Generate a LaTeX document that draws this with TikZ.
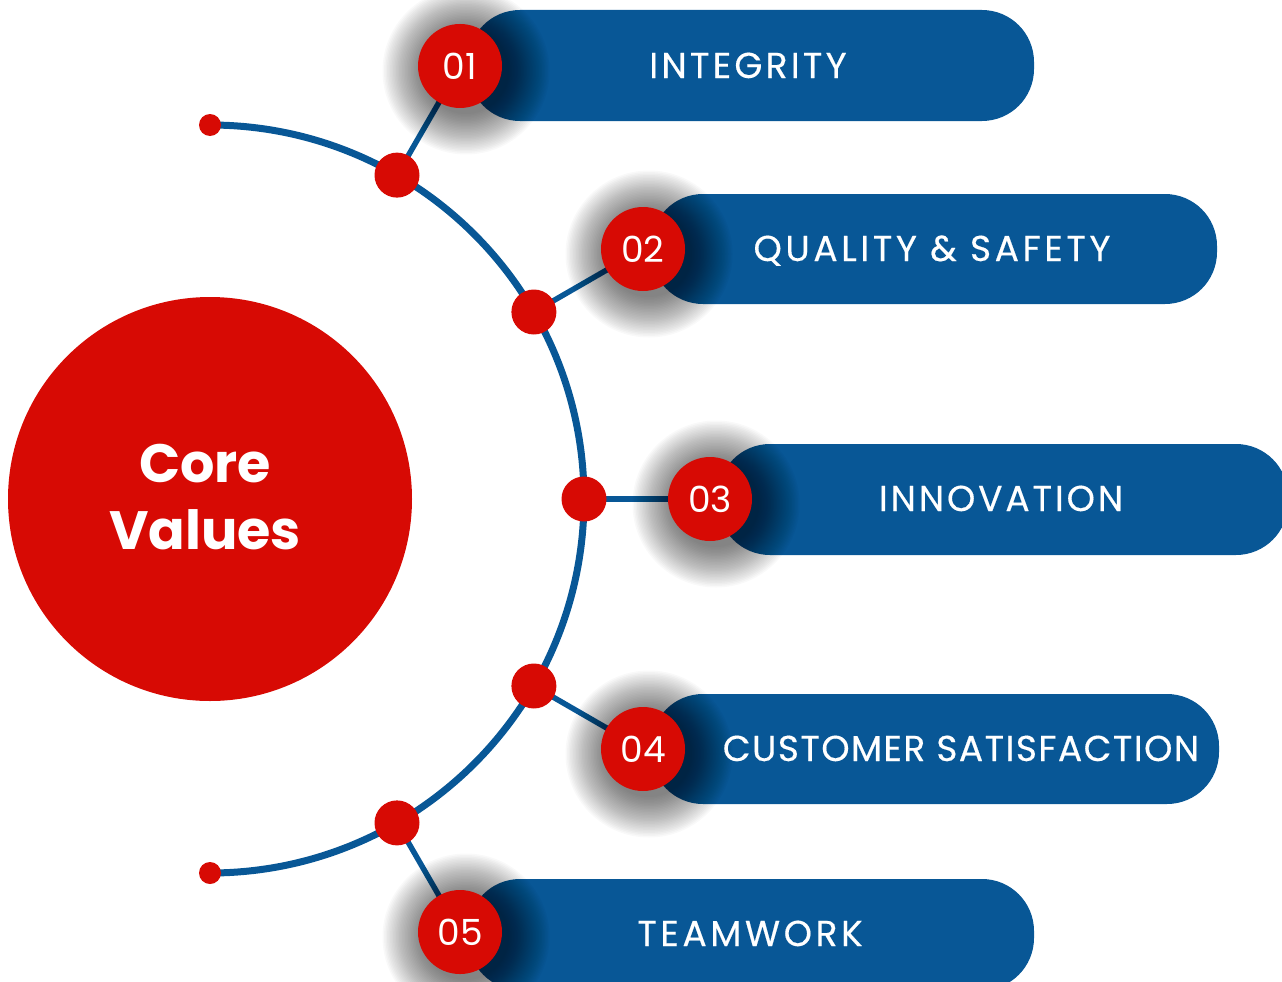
\documentclass[tikz,border=0pt]{standalone}
\usepackage{fontspec}
\setmainfont{Poppins}
\newfontfamily\labelfont[FakeBold=0.4]{Poppins}
\newfontfamily\numfont{Poppins}
\usetikzlibrary{calc}
\definecolor{cvred}{HTML}{D70A04}
\definecolor{cvblue}{HTML}{085796}
\pgfdeclarelayer{bg}
\pgfsetlayers{bg,main}
\newcommand\ls[2]{{\addfontfeature{LetterSpace=#1}#2}}
\tikzset{
  dotnode/.style={circle, fill=cvred, minimum size=45pt, inner sep=0pt},
  endnode/.style={circle, fill=cvred, minimum size=22pt, inner sep=0pt},
  numnode/.style={circle, fill=cvred, minimum size=84pt, inner sep=0pt, text=white, font=\numfont\fontsize{36}{40}\selectfont},
  barlabel/.style={anchor=base, text=white, inner sep=0pt, font=\labelfont\fontsize{36}{40}\selectfont},
  bar/.style={fill=cvblue, rounded corners=52pt},
  arcline/.style={draw=cvblue, line width=7pt},
  conn/.style={draw=cvblue, line width=5.5pt},
  shadowring/.style={fill=black, opacity=0.022},
}
\begin{document}
\begin{tikzpicture}[x=1pt,y=-1pt]
\useasboundingbox (0,0) rectangle (1282,982);
\clip (0,0) rectangle (1282,982);
\coordinate (C) at (210,499);
% big circle
\node[circle, fill=cvred, minimum size=404pt, inner sep=0pt] (core) at (C) {};
\node[text=white, align=center, font=\bfseries\fontsize{54}{67}\selectfont] (coretxt) at (205,497) {Core\\Values};
% arc dots (y axis points down, so negative angles are above the centre)
\node[endnode] (e1) at ($(C)+(-90:374)$) {};
\node[endnode] (e2) at ($(C)+(90:374)$) {};
\node[dotnode] (d1) at ($(C)+(-60:374)$) {};
\node[dotnode] (d2) at ($(C)+(-30:374)$) {};
\node[dotnode] (d3) at ($(C)+(0:374)$) {};
\node[dotnode] (d4) at ($(C)+(30:374)$) {};
\node[dotnode] (d5) at ($(C)+(60:374)$) {};
% number circles
\node[numnode] (n1) at ($(C)+(-60:500)$) {01};
\node[numnode] (n2) at ($(C)+(-30:500)$) {02};
\node[numnode] (n3) at ($(C)+(0:500)$) {03};
\node[numnode] (n4) at ($(C)+(30:500)$) {04};
\node[numnode] (n5) at ($(C)+(60:500)$) {05};
% labels
\node[barlabel] (t1) at (748,78) {\ls{9}{INTEGRITY}};
\node[barlabel] (t2) at (932,261) {\ls{10}{QUALITY \& SAFETY}};
\node[barlabel] (t3) at (1001,511) {\ls{8}{INNOVATION}};
\node[barlabel] (t4) at (961,761) {\ls{4}{CUSTOMER SATISFACTION}};
\node[barlabel] (t5) at (750,946) {\ls{10}{TEAMWORK}};
\begin{pgfonlayer}{bg}
  \draw[arcline] (e1.center) arc[start angle=-90, end angle=90, radius=374];
  \foreach \i in {1,...,5} {\draw[conn] (d\i.center) -- (n\i.center);}
  \fill[bar] (468,10) rectangle (1034,121);
  \fill[bar] (651,194) rectangle (1217,304);
  \fill[bar] (718,444) rectangle (1288,555);
  \fill[bar] (651,694) rectangle (1219,804);
  \fill[bar] (468,879) rectangle (1034,990);
  \foreach \i in {1,...,5} {
    \foreach \r in {43,44.5,...,84} {\fill[shadowring] ($(n\i.center)+(6,5)$) circle (\r);}
  }
\end{pgfonlayer}
\end{tikzpicture}
\end{document}
